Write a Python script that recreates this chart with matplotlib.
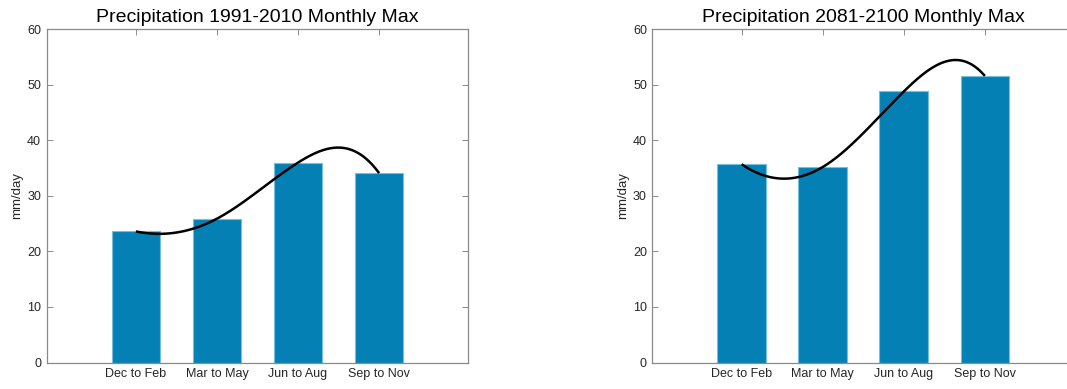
import numpy as np
import matplotlib
matplotlib.use("Agg")
import matplotlib.pyplot as plt

plt.rcParams["font.family"] = ["Liberation Sans", "DejaVu Sans"]

seasons = ["Dec to Feb", "Mar to May", "Jun to Aug", "Sep to Nov"]
hist_max = [23.6, 25.9, 36.0, 34.1]      # 1991-2010, mm/day
future_max = [35.7, 35.2, 48.8, 51.6]    # 2081-2100, mm/day

titles = ["Precipitation 1991-2010 Monthly Max",
          "Precipitation 2081-2100 Monthly Max"]
# end slopes of the clamped spline drawn through the bar tops
end_slopes = [(-3.0, -20.0), (-10.0, -17.0)]

BAR_COLOR = "#0580b4"
EDGE_COLOR = "#74bfdf"
AXIS_GREY = "#8a8a8a"
TEXT_DARK = "#262626"


def clamped_spline(x, y, s0, s1, xx):
    """Cubic spline through (x, y) with prescribed end slopes."""
    x = np.asarray(x, float)
    y = np.asarray(y, float)
    n = len(x)
    h = np.diff(x)
    A = np.zeros((n, n))
    b = np.zeros(n)
    A[0, 0], A[0, 1] = 2 * h[0], h[0]
    b[0] = 6 * ((y[1] - y[0]) / h[0] - s0)
    A[-1, -2], A[-1, -1] = h[-1], 2 * h[-1]
    b[-1] = 6 * (s1 - (y[-1] - y[-2]) / h[-1])
    for i in range(1, n - 1):
        A[i, i - 1] = h[i - 1]
        A[i, i] = 2 * (h[i - 1] + h[i])
        A[i, i + 1] = h[i]
        b[i] = 6 * ((y[i + 1] - y[i]) / h[i] - (y[i] - y[i - 1]) / h[i - 1])
    M = np.linalg.solve(A, b)
    idx = np.clip(np.searchsorted(x, xx) - 1, 0, n - 2)
    a = x[idx + 1] - xx
    c = xx - x[idx]
    hi = h[idx]
    return ((M[idx] * a**3 + M[idx + 1] * c**3) / (6 * hi)
            + (y[idx] / hi - M[idx] * hi / 6) * a
            + (y[idx + 1] / hi - M[idx + 1] * hi / 6) * c)


fig = plt.figure(figsize=(10.67, 3.89), dpi=100)
ax_rects = [[0.0438, 0.0681, 0.3951, 0.8566],
            [0.6115, 0.0681, 0.3951, 0.8566]]

for rect, vals, title, (s0, s1) in zip(ax_rects, [hist_max, future_max], titles, end_slopes):
    ax = fig.add_axes(rect)
    x = np.arange(1, len(seasons) + 1)
    ax.bar(x, vals, width=0.6, color=BAR_COLOR, edgecolor=EDGE_COLOR,
           linewidth=0.8, zorder=2)
    xx = np.linspace(x[0], x[-1], 300)
    ax.plot(xx, clamped_spline(x, vals, s0, s1, xx), color="black",
            lw=1.8, solid_capstyle="butt", zorder=3)

    ax.set_xlim(-0.1, 5.1)
    ax.set_ylim(0, 60)
    ax.set_xticks(x)
    ax.set_xticklabels(seasons)
    ax.set_yticks(np.arange(0, 61, 10))
    ax.tick_params(direction="in", length=4, width=0.7, color=AXIS_GREY,
                   labelcolor=TEXT_DARK, labelsize=9, top=True, right=True,
                   pad=4)
    for sp in ax.spines.values():
        sp.set_color(AXIS_GREY)
        sp.set_linewidth(0.9)
    ax.set_ylabel("mm/day", fontsize=9.5, color=TEXT_DARK, labelpad=3)
    ax.set_title(title, fontsize=14, color="black", pad=5)

fig.savefig("out.png", dpi=100)
